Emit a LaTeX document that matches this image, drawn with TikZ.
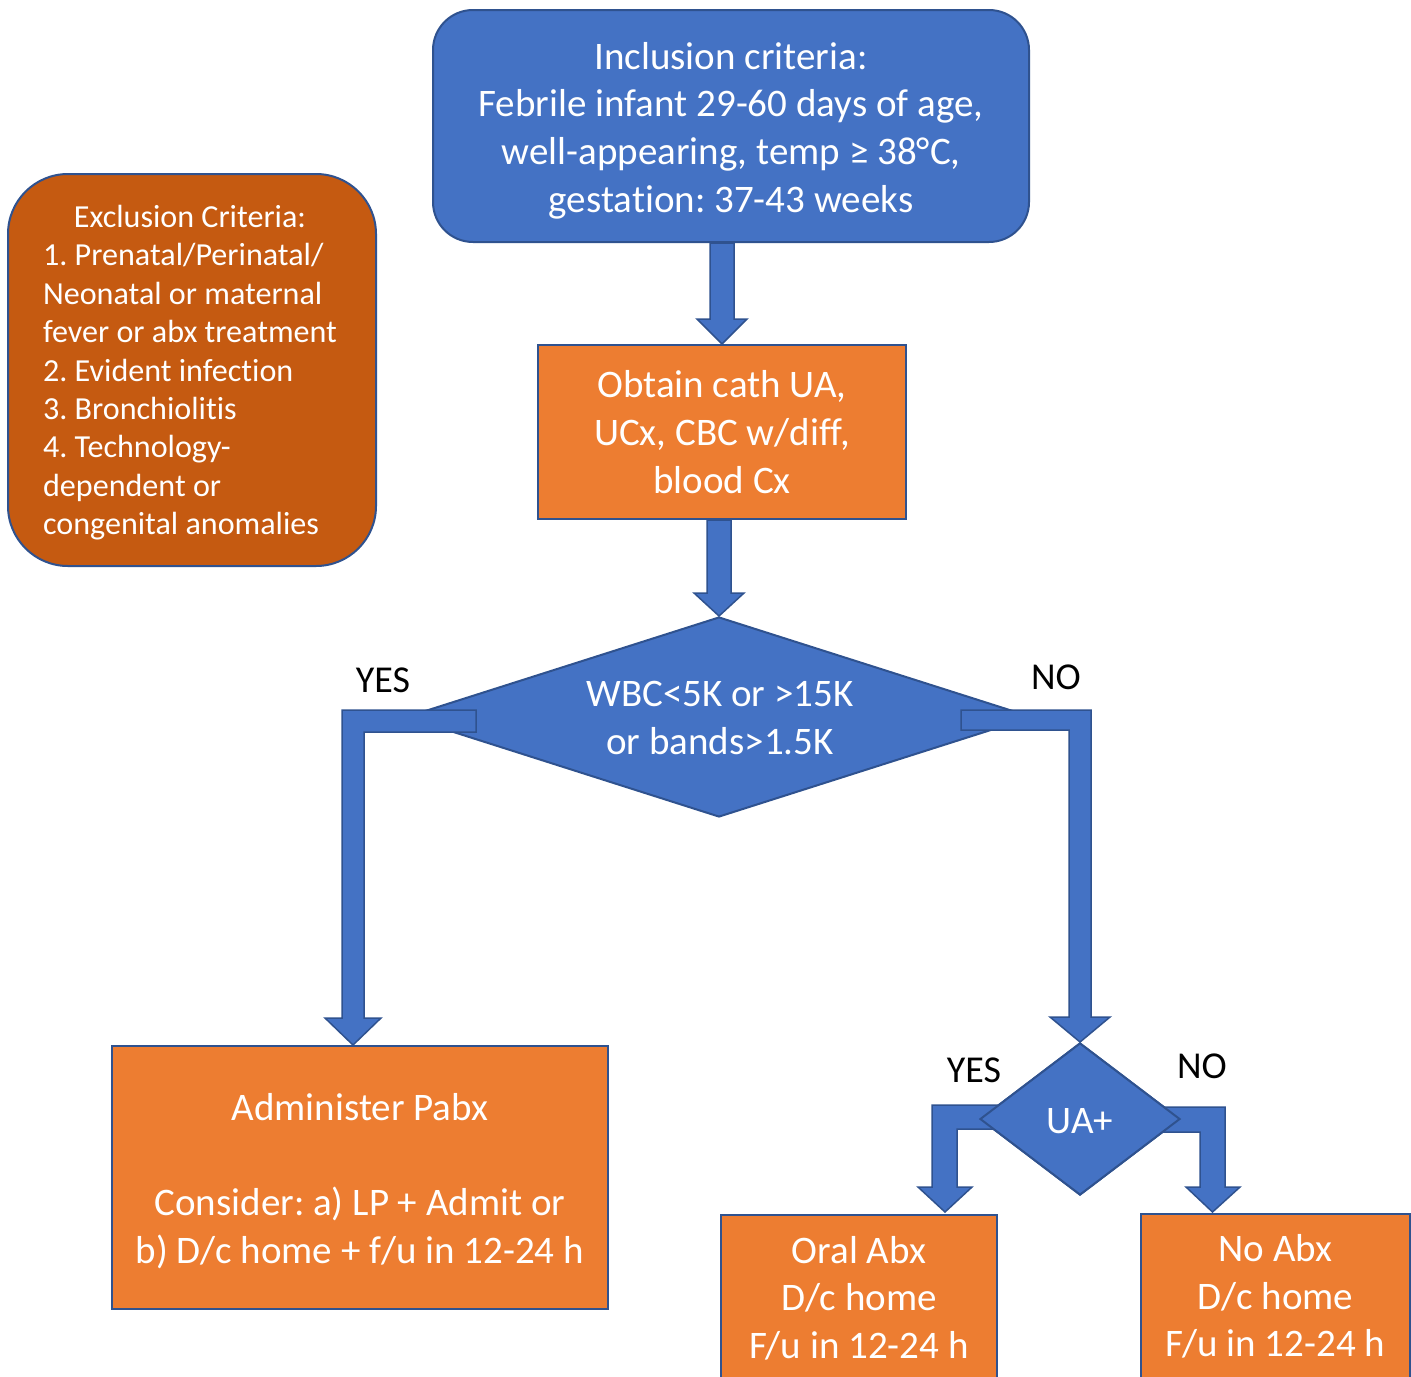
\documentclass[tikz,border=0pt]{standalone}
\usepackage{fontspec}
\setmainfont{Carlito}[RawFeature={-liga,-clig,-dlig,-calt}]
\usetikzlibrary{shapes.geometric,calc}
\definecolor{cblue}{HTML}{4472C4}
\definecolor{cedge}{HTML}{2F528F}
\definecolor{corange}{HTML}{ED7D31}
\definecolor{cdark}{HTML}{C55A11}
\newcommand\Tnoi{t\kern0pt i}
\frenchspacing
\begin{document}
\begin{tikzpicture}[x=0.5pt,y=-0.5pt,
  big/.style={font=\fontsize{19.5}{23.8}\selectfont, text=white, align=center},
  bluebox/.style={draw=cedge, fill=cblue, line width=1pt, inner sep=0pt},
  orangebox/.style={draw=cedge, fill=corange, line width=1pt, inner sep=0pt},
  blockarrow/.style={draw=cedge, fill=cblue, line width=0.75pt, line join=miter},
  lbl/.style={font=\fontsize{19}{23}\selectfont, text=black, inner sep=0pt}]
\clip (0,0) rectangle (1411,1376);
\fill[white] (0,0) rectangle (1411,1376);

% boxes
\node[bluebox, rounded corners=20pt, minimum width=298pt, minimum height=116pt] (inc) at (731,126) {};
\node[big] (inct) at (731,130.5) {Inclusion criteria:\\Febrile infant 29-60 days of age,\\well-appearing, temp ≥ 38°C,\\gesta\Tnoi on: 37-43 weeks};

\node[draw=cedge, fill=cdark, line width=1pt, rounded corners=30pt, minimum width=184pt, minimum height=196pt,
  inner sep=0pt] (exc) at (192,370) {};
\node[inner sep=0pt, text=white, font=\fontsize{16.05}{19.2}\selectfont] (exct) at (190,373.5)
  {\begin{tabular}{@{}l@{}}\multicolumn{1}{@{}c@{}}{Exclusion Criteria:}\\
  1. Prenatal/Perinatal/\\Neonatal or maternal\\fever or abx treatment\\2. Evident infec\Tnoi on\\3. Bronchioli\Tnoi s\\4. Technology-\\dependent or\\congenital anomalies\end{tabular}};

\node[orangebox, minimum width=184pt, minimum height=87pt, big]
  (obt) at (722,432) {Obtain cath UA,\\UCx, CBC w/diff,\\blood Cx};

\node[diamond, draw=cedge, fill=cblue, line width=1pt, minimum width=313pt, minimum height=100pt, inner sep=0pt]
  (wd) at (719,717) {};
\node[big] (wdt) at (720,718) {WBC<5K or >15K\\or bands>1.5K};

\node[orangebox, minimum width=248pt, minimum height=131.5pt] (adm) at (360,1177.5) {};
\node[big] (admt) at (360,1181) {Administer Pabx\\[23.8pt]Consider: a) LP + Admit or\\b) D/c home + f/u in 12-24 h};

\node[orangebox, minimum width=138pt, minimum height=83pt, big]
  (oral) at (859,1298) {Oral Abx\\D/c home\\F/u in 12-24 h};

\node[orangebox, minimum width=134.5pt, minimum height=82.5pt, big]
  (noabx) at (1275.5,1296.5) {No Abx\\D/c home\\F/u in 12-24 h};

% straight arrows
\draw[blockarrow] ($(obt.north |- inc.south)+(-12,0)$) -- ($(obt.north)+(-12,-25)$) -- ($(obt.north)+(-25,-25)$)
  -- (obt.north) -- ($(obt.north)+(25,-25)$) -- ($(obt.north)+(12,-25)$) -- ($(obt.north |- inc.south)+(12,0)$) -- cycle;
\draw[blockarrow] ($(wd.north |- obt.south)+(-12,0)$) -- ($(wd.north)+(-12,-23)$) -- ($(wd.north)+(-25,-23)$)
  -- (wd.north) -- ($(wd.north)+(25,-23)$) -- ($(wd.north)+(12,-23)$) -- ($(wd.north |- obt.south)+(12,0)$) -- cycle;

% bent arrows from large diamond
\coordinate (yt) at ($(adm.north)+(-7,0)$);
\draw[blockarrow] (476,710) -- (342,710) -- (342,1018) -- (325,1018) -- (yt) -- (381,1018) -- (364,1018)
  -- (364,732) -- (476,732) -- cycle;

\node[diamond, draw=cedge, fill=cblue, line width=1pt, minimum width=100pt, minimum height=76pt, inner sep=0pt]
  (ua) at (1080,1119) {};

\draw[blockarrow] (961,710) -- (1091,710) -- (1091,1017) -- (1110,1017) -- (ua.north) -- (1050,1017) -- (1069,1017)
  -- (1069,730) -- (961,730) -- cycle;

% small bent arrows
\coordinate (ot) at ($(oral.north)+(86,-2)$);
\coordinate (nt) at ($(noabx.north)+(-63,-1)$);
\draw[blockarrow] (1000,1105) -- (932,1105) -- (932,1187) -- (918,1187) -- (ot) -- (972,1187) -- (957,1187)
  -- (957,1129) -- (1000,1129) -- cycle;
\draw[blockarrow] (1160,1107) -- (1225,1107) -- (1225,1187) -- (1240,1187) -- (nt) -- (1186,1187) -- (1200,1187)
  -- (1200,1132) -- (1160,1132) -- cycle;

% redraw small diamond on top
\node[diamond, draw=cedge, fill=cblue, line width=1pt, minimum width=100pt, minimum height=76pt, inner sep=0pt]
  (ua2) at (ua) {};
\node[big] (uat) at (1080,1121) {UA+};

% labels
\node[lbl] (l1) at (383,680) {YES};
\node[lbl] (l2) at (1056,677) {NO};
\node[lbl] (l3) at (974,1070) {YES};
\node[lbl] (l4) at (1202,1066) {NO};
\end{tikzpicture}
\end{document}
